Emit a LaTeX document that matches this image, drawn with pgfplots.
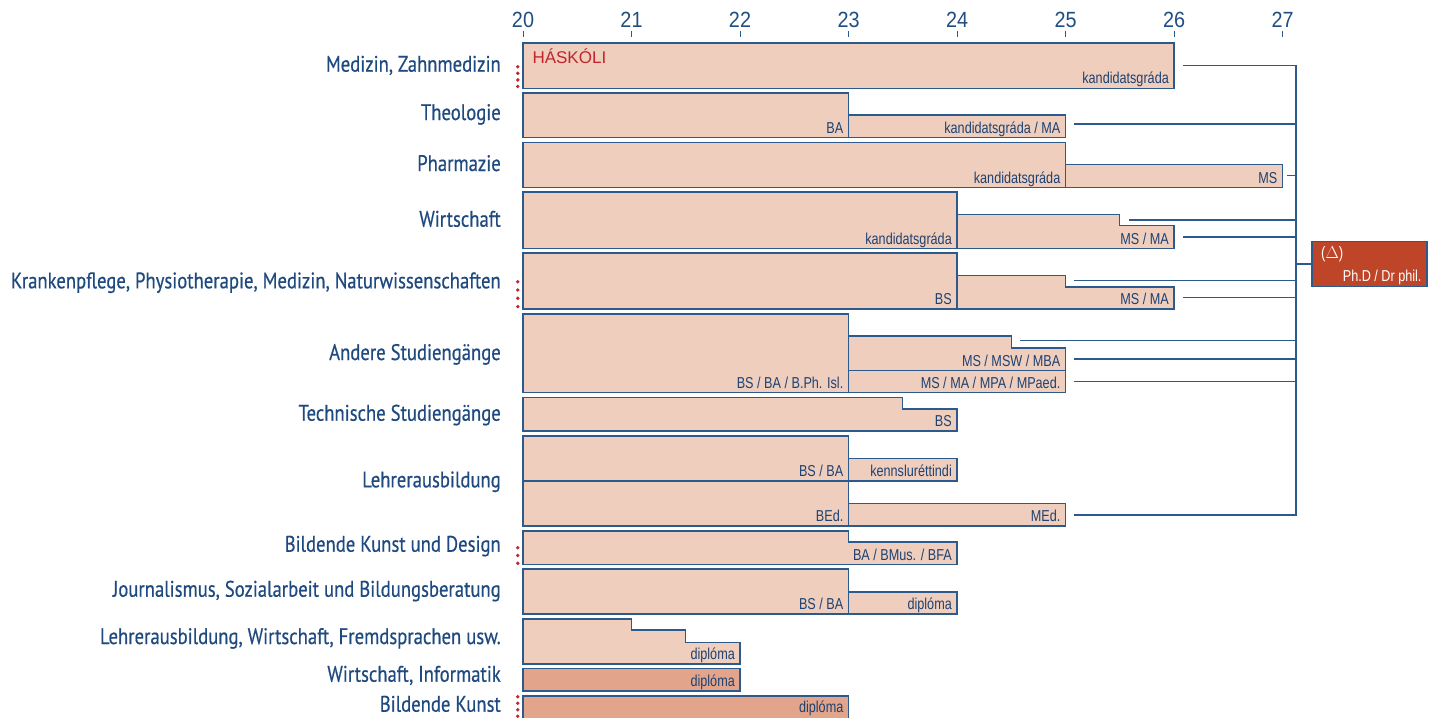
\documentclass[border=0pt]{standalone}
\usepackage{fontspec}
\usepackage{pgfplots}
\pgfplotsset{compat=1.18}
\setmainfont{Liberation Sans}
\newfontfamily\catfont{PT Sans}[FakeStretch=0.83, FakeBold=0.5]
\newfontfamily\narrowfont{Liberation Sans}[FakeStretch=0.8]
\newfontfamily\tickfont{Liberation Sans}[FakeStretch=0.9]
\definecolor{catblue}{HTML}{1F4A80}
\definecolor{txtblue}{HTML}{1E4272}
\definecolor{tickblue}{HTML}{1F4E80}
\definecolor{edge}{HTML}{2C5A8C}
\definecolor{barfill}{HTML}{EFCEBD}
\definecolor{bardark}{HTML}{E2A58B}
\definecolor{phd}{HTML}{BF4529}
\definecolor{hred}{HTML}{C0252B}
\definecolor{dotred}{HTML}{C0272D}
\tikzset{
  bar/.style={fill=barfill, draw=edge, line width=1.2pt, line join=miter, mark=none},
  darkbar/.style={fill=bardark, draw=edge, line width=1.2pt, line join=miter, mark=none},
  conn/.style={draw=edge, line width=1.4pt, mark=none},
  dots/.style={draw=dotred, line width=3.8pt, line cap=round, mark=none},
  blab/.style={anchor=base east, inner sep=0pt, text=txtblue, font=\narrowfont\fontsize{15.8}{18}\selectfont},
  clab/.style={anchor=base east, inner sep=0pt, text=catblue, font=\catfont\fontsize{22.5}{26}\selectfont},
}
\begin{document}
\begin{tikzpicture}
\begin{axis}[
  scale only axis, width=1432pt, height=680pt,
  xmin=15.1797, xmax=28.3779, ymin=37, ymax=717, y dir=reverse,
  hide y axis, axis x line*=top, x axis line style={draw=none},
  xtick={20,21,22,23,24,25,26,27},
  tick align=outside, major tick length=6pt,
  tick style={draw=edge, line width=1pt},
  xticklabel style={font=\tickfont\fontsize{22}{26}\selectfont, text=tickblue},
  /pgf/number format/assume math mode=true,
]
% ---- programme bars (x = age, y = row position in px from top) ----
% Medizin, Zahnmedizin
\addplot[bar] coordinates {(20,88.5) (20,43) (26,43) (26,88.5)} -- cycle;
% Theologie
\addplot[bar] coordinates {(20,137.5) (20,93) (23,93) (23,137.5)} -- cycle;
\addplot[bar] coordinates {(23,137.5) (23,115) (25,115) (25,137.5)} -- cycle;
% Pharmazie
\addplot[bar] coordinates {(20,187.5) (20,142.5) (25,142.5) (25,187.5)} -- cycle;
\addplot[bar] coordinates {(25,187.5) (25,164.5) (27,164.5) (27,187.5)} -- cycle;
% Wirtschaft
\addplot[bar] coordinates {(20,248.5) (20,192) (24,192) (24,248.5)} -- cycle;
\addplot[bar] coordinates {(24,248.5) (24,214.5) (25.5,214.5) (25.5,225.5) (26,225.5) (26,248.5)} -- cycle;
% Krankenpflege ...
\addplot[bar] coordinates {(20,309) (20,253) (24,253) (24,309)} -- cycle;
\addplot[bar] coordinates {(24,309) (24,275.5) (25,275.5) (25,287) (26,287) (26,309)} -- cycle;
% Andere Studiengaenge
\addplot[bar] coordinates {(20,392.5) (20,314) (23,314) (23,392.5)} -- cycle;
\addplot[bar] coordinates {(23,370.5) (23,336) (24.5,336) (24.5,348) (25,348) (25,370.5)} -- cycle;
\addplot[bar] coordinates {(23,392.5) (23,370.5) (25,370.5) (25,392.5)} -- cycle;
% Technische Studiengaenge
\addplot[bar] coordinates {(20,431) (20,397.5) (23.5,397.5) (23.5,409) (24,409) (24,431)} -- cycle;
% Lehrerausbildung
\addplot[bar] coordinates {(20,481) (20,436) (23,436) (23,481)} -- cycle;
\addplot[bar] coordinates {(23,481) (23,458.5) (24,458.5) (24,481)} -- cycle;
\addplot[bar] coordinates {(20,526) (20,481) (23,481) (23,526)} -- cycle;
\addplot[bar] coordinates {(23,526) (23,503.5) (25,503.5) (25,526)} -- cycle;
% Bildende Kunst und Design
\addplot[bar] coordinates {(20,564.5) (20,531) (23,531) (23,542) (24,542) (24,564.5)} -- cycle;
% Journalismus ...
\addplot[bar] coordinates {(20,614) (20,569) (23,569) (23,614)} -- cycle;
\addplot[bar] coordinates {(23,614) (23,592) (24,592) (24,614)} -- cycle;
% Lehrerausbildung, Wirtschaft, Fremdsprachen usw.
\addplot[bar] coordinates {(20,664) (20,619) (21,619) (21,630) (21.5,630) (21.5,642.5) (22,642.5) (22,664)} -- cycle;
% Wirtschaft, Informatik
\addplot[darkbar] coordinates {(20,691) (20,668.5) (22,668.5) (22,691)} -- cycle;
% Bildende Kunst
\addplot[darkbar] coordinates {(20,725) (20,696) (23,696) (23,725)} -- cycle;

% ---- connectors to doctoral studies ----
\addplot[conn] coordinates {(26.083,65.5) (27.124,65.5)};
\addplot[conn] coordinates {(25.078,124) (27.124,124)};
\addplot[conn] coordinates {(27.041,175.7) (27.124,175.7)};
\addplot[conn] coordinates {(25.585,220) (27.124,220)};
\addplot[conn] coordinates {(26.083,237) (27.124,237)};
\addplot[conn] coordinates {(25.078,280.7) (27.124,280.7)};
\addplot[conn] coordinates {(26.083,297.7) (27.124,297.7)};
\addplot[conn] coordinates {(24.58,340.7) (27.124,340.7)};
\addplot[conn] coordinates {(25.078,359) (27.124,359)};
\addplot[conn] coordinates {(25.078,381.7) (27.124,381.7)};
\addplot[conn] coordinates {(25.078,515) (27.124,515)};
\addplot[draw=edge, line width=2pt, mark=none] coordinates {(27.124,64.8) (27.124,515.7)};
\addplot[conn] coordinates {(27.124,264) (27.262,264)};
% PhD box
\addplot[fill=phd, draw=edge, line width=1.2pt, mark=none] coordinates {(27.272,286.7) (27.272,241.7) (28.332,241.7) (28.332,286.7)} -- cycle;

% ---- red dotted markers ----
\addplot[dots, dash pattern=on 0pt off 6.6pt] coordinates {(19.952,66.7) (19.952,87)};
\addplot[dots, dash pattern=on 0pt off 8.3pt] coordinates {(19.952,281.7) (19.952,307)};
\addplot[dots, dash pattern=on 0pt off 7.8pt] coordinates {(19.952,547.7) (19.952,563.7)};
\addplot[dots, dash pattern=on 0pt off 6.5pt] coordinates {(19.952,696.7) (19.952,716.5)};

% ---- texts inside bars ----
\node[anchor=base west, inner sep=0pt, text=hred, font=\fontsize{17}{20}\selectfont] at (axis cs:20.086,63.3) {HÁSKÓLI};
\node[blab] at (axis cs:25.954,83.5) {kandidatsgráda};
\node[blab] at (axis cs:22.954,133) {BA};
\node[blab] at (axis cs:24.954,133) {kandidatsgráda / MA};
\node[blab] at (axis cs:24.954,183) {kandidatsgráda};
\node[blab] at (axis cs:26.954,183) {MS};
\node[blab] at (axis cs:23.954,244) {kandidatsgráda};
\node[blab] at (axis cs:25.954,244) {MS / MA};
\node[blab] at (axis cs:23.954,304.5) {BS};
\node[blab] at (axis cs:25.954,304.5) {MS / MA};
\node[blab] at (axis cs:22.954,388) {BS / BA / B.Ph. Isl.};
\node[blab] at (axis cs:24.954,366) {MS / MSW / MBA};
\node[blab] at (axis cs:24.954,388) {MS / MA / MPA / MPaed.};
\node[blab] at (axis cs:23.954,426.5) {BS};
\node[blab] at (axis cs:22.954,476.5) {BS / BA};
\node[blab] at (axis cs:23.954,476.5) {kennsluréttindi};
\node[blab] at (axis cs:22.954,521.5) {BEd.};
\node[blab] at (axis cs:24.954,521.5) {MEd.};
\node[blab] at (axis cs:23.954,560) {BA / BMus. / BFA};
\node[blab] at (axis cs:22.954,609.5) {BS / BA};
\node[blab] at (axis cs:23.954,609.5) {diplóma};
\node[blab] at (axis cs:21.954,659.5) {diplóma};
\node[blab] at (axis cs:21.954,686.5) {diplóma};
\node[blab] at (axis cs:22.954,712.5) {diplóma};
\node[anchor=base west, inner sep=0pt, text=white, font=\narrowfont\fontsize{16.5}{19}\selectfont] at (axis cs:27.355,258) {($\Delta$)};
\node[anchor=base east, inner sep=0pt, text=white, font=\narrowfont\fontsize{15.8}{18}\selectfont] at (axis cs:28.283,281.5) {Ph.D / Dr phil.};

% ---- category labels ----
\node[clab] at (axis cs:19.797,71.7) {Medizin, Zahnmedizin};
\node[clab] at (axis cs:19.797,120) {Theologie};
\node[clab] at (axis cs:19.797,171) {Pharmazie};
\node[clab] at (axis cs:19.797,226.7) {Wirtschaft};
\node[clab] at (axis cs:19.797,288.3) {Krankenpflege, Physiotherapie, Medizin, Naturwissenschaften};
\node[clab] at (axis cs:19.797,360) {Andere Studiengänge};
\node[clab] at (axis cs:19.797,420.7) {Technische Studiengänge};
\node[clab] at (axis cs:19.797,487.3) {Lehrerausbildung};
\node[clab] at (axis cs:19.797,551.7) {Bildende Kunst und Design};
\node[clab] at (axis cs:19.797,596.7) {Journalismus, Sozialarbeit und Bildungsberatung};
\node[clab] at (axis cs:19.797,644) {Lehrerausbildung, Wirtschaft, Fremdsprachen usw.};
\node[clab] at (axis cs:19.797,681.7) {Wirtschaft, Informatik};
\node[clab] at (axis cs:19.797,711.7) {Bildende Kunst};

\coordinate (bl) at (axis cs:15.1797,717);
\coordinate (tr) at (axis cs:28.3779,0);
\end{axis}
\pgfresetboundingbox
\path[use as bounding box] (bl) rectangle (tr);
\end{tikzpicture}
\end{document}
